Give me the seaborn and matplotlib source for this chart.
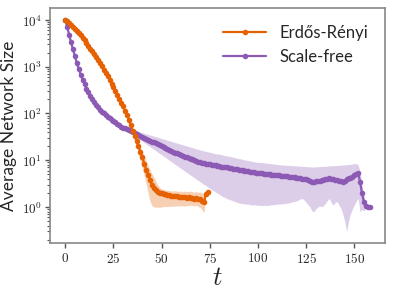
import numpy as np
import seaborn as sns
import matplotlib.pyplot as plt
from matplotlib.ticker import FixedLocator, FixedFormatter, LogLocator, NullFormatter

# Erdos-Renyi: mean network size per step with shaded band
er_mean = [10000, 9330, 8510, 7760, 7080, 6460, 5750, 5250, 4680, 4170,
           3720, 3240, 2820, 2450, 2140, 1860, 1620, 1380, 1200, 1020,
           871, 741, 631, 525, 437, 363, 302, 251, 204, 166,
           141, 115, 93, 74, 56, 43, 33, 26.3, 20.0, 15.1,
           11.5, 8.5, 6.3, 4.8, 3.7, 3.0, 2.57, 2.29, 2.14, 2.04,
           1.95, 1.91, 1.86, 1.82, 1.78, 1.74, 1.72, 1.70, 1.68, 1.66,
           1.64, 1.62, 1.63, 1.58, 1.60, 1.57, 1.55, 1.51, 1.53, 1.48,
           1.45, 1.35, 1.26, 1.91, 2.09]
er_hi = [10000, 9770, 8910, 8120, 7410, 6760, 6020, 5500, 4900, 4370,
         3890, 3390, 2950, 2570, 2240, 1950, 1700, 1440, 1260, 1070,
         912, 776, 661, 550, 458, 380, 316, 263, 214, 174,
         148, 120, 97, 78, 60, 47, 37.2, 30.2, 24.0, 19.1,
         14.8, 12.6, 9.55, 7.59, 6.17, 5.13, 4.37, 3.55, 2.95, 2.63,
         2.45, 2.34, 2.29, 2.27, 2.24, 2.21, 2.19, 2.24, 2.19, 2.16,
         2.19, 2.14, 2.19, 2.14, 2.16, 2.19, 2.12, 2.09, 2.14, 2.04,
         2.09, 2.00, 1.82, 2.09, 2.19]
er_lo = [10000, 8910, 8130, 7410, 6760, 6170, 5490, 5010, 4470, 3980,
         3550, 3090, 2690, 2340, 2040, 1780, 1550, 1320, 1150, 974,
         832, 708, 603, 501, 417, 347, 288, 240, 195, 159,
         135, 110, 89, 70, 52, 39, 28.8, 20.0, 13.5, 9.55,
         6.76, 4.57, 3.02, 2.00, 1.32, 1.07, 1.00, 1.00, 0.99, 0.99,
         1.00, 1.02, 1.03, 1.02, 1.04, 1.03, 1.05, 1.04, 1.06, 1.05,
         1.07, 1.06, 1.04, 1.08, 1.07, 1.10, 1.08, 1.05, 1.10, 1.02,
         0.98, 0.87, 0.76, 1.74, 1.99]

# Scale-free
sf_mean = [10000, 7080, 4790, 3310, 2340, 1660, 1200, 891, 676, 525,
           417, 339, 282, 234, 200, 174, 151, 135, 120, 110,
           100, 91.2, 85.1, 79.4, 74.1, 69.2, 64.6, 60.3, 56.2, 52.5,
           50.1, 47.9, 45.7, 43.7, 41.7, 39.8, 38.0, 36.3, 34.7, 33.1,
           31.6, 30.2, 28.8, 27.5, 26.3, 25.1, 24.0, 22.9, 21.9, 20.9,
           20.0, 19.1, 18.2, 17.4, 16.6, 15.8, 15.1, 14.5, 14.1, 13.5,
           12.9, 12.6, 12.0, 11.5, 11.2, 10.7, 10.5, 10.0, 9.77, 9.33,
           9.12, 8.91, 8.71, 8.51, 8.32, 8.13, 7.94, 7.85, 7.76, 7.59,
           7.50, 7.33, 7.24, 7.08, 7.00, 6.84, 6.76, 6.61, 6.53, 6.46,
           6.31, 6.24, 6.10, 6.03, 5.89, 5.82, 5.69, 5.62, 5.50, 5.43,
           5.37, 5.31, 5.25, 5.19, 5.13, 5.07, 5.01, 4.95, 4.90, 4.84,
           4.79, 4.73, 4.68, 4.62, 4.57, 4.52, 4.47, 4.42, 4.37, 4.32,
           4.27, 4.22, 4.17, 4.07, 3.98, 3.89, 3.76, 3.63, 3.51, 3.47,
           3.55, 3.63, 3.59, 3.72, 3.76, 3.89, 4.07, 4.22, 4.07, 3.89,
           3.80, 3.76, 3.63, 3.55, 3.47, 3.63, 3.98, 4.27, 4.17, 4.47,
           4.79, 5.01, 5.25, 3.47, 1.95, 1.29, 1.07, 1.00, 1.00]
sf_hi = [10000, 7940, 5370, 3710, 2630, 1860, 1350, 1000, 759, 589,
         468, 380, 316, 263, 224, 195, 169, 151, 135, 123,
         112, 102, 95.5, 89.1, 83.2, 77.6, 72.4, 67.6, 63.1, 58.9,
         56.2, 53.7, 51.3, 49.0, 46.8, 44.7, 43.4, 42.2, 41.0, 39.9,
         38.8, 37.7, 36.6, 35.6, 34.6, 33.7, 32.7, 31.8, 30.9, 30.1,
         29.2, 28.4, 27.6, 26.8, 26.1, 25.4, 24.7, 23.9, 23.3, 22.6,
         22.0, 21.4, 20.8, 20.2, 19.6, 19.1, 18.6, 18.0, 17.5, 17.1,
         16.6, 16.2, 15.8, 15.5, 15.1, 14.8, 14.5, 14.1, 13.8, 13.6,
         13.5, 13.2, 12.9, 12.6, 12.3, 12.2, 11.9, 11.6, 11.4, 11.1,
         10.8, 10.7, 10.5, 10.2, 10.0, 9.89, 9.66, 9.44, 9.33, 9.12,
         9.02, 8.91, 8.91, 8.81, 8.71, 8.61, 8.51, 8.41, 8.32, 8.22,
         8.13, 8.04, 7.94, 7.94, 7.85, 7.76, 7.76, 7.67, 7.67, 7.59,
         7.59, 7.50, 7.50, 7.41, 7.41, 7.33, 7.24, 7.24, 7.16, 7.16,
         7.24, 7.24, 7.33, 7.33, 7.41, 7.41, 7.50, 7.59, 7.59, 7.67,
         7.67, 7.76, 7.76, 7.85, 7.94, 7.94, 8.04, 8.13, 8.22, 8.32,
         8.41, 8.51, 7.94, 5.62, 2.82, 1.78, 1.15, 1.02, 1.00]
sf_lo = [10000, 6310, 4270, 2950, 2090, 1480, 1070, 794, 602, 468,
         372, 302, 251, 209, 178, 155, 135, 120, 107, 98,
         89, 81, 75.9, 70.8, 66.1, 61.7, 57.6, 53.7, 50.1, 46.8,
         44.7, 42.7, 40.7, 39.0, 37.2, 35.5, 33.2, 31.0, 29.0, 27.2,
         25.4, 23.8, 22.3, 20.8, 19.5, 18.2, 17.1, 16.0, 14.9, 14.0,
         13.1, 12.2, 11.5, 10.7, 10.0, 9.38, 8.77, 8.20, 7.67, 7.18,
         6.71, 6.29, 5.89, 5.51, 5.15, 4.82, 4.51, 4.22, 3.94, 3.69,
         3.47, 3.24, 3.02, 2.88, 2.69, 2.51, 2.34, 2.24, 2.09, 1.95,
         1.86, 1.74, 1.66, 1.58, 1.51, 1.46, 1.41, 1.35, 1.32, 1.26,
         1.23, 1.20, 1.19, 1.17, 1.15, 1.16, 1.12, 1.11, 1.12, 1.10,
         1.08, 1.10, 1.07, 1.08, 1.10, 1.07, 1.10, 1.12, 1.11, 1.15,
         1.14, 1.17, 1.16, 1.17, 1.20, 1.20, 1.23, 1.26, 1.29, 1.32,
         1.35, 1.41, 1.48, 1.53, 1.41, 1.26, 1.12, 1.00, 0.83, 0.79,
         0.91, 1.00, 1.05, 1.02, 1.07, 1.20, 1.38, 1.53, 1.26, 1.10,
         1.23, 1.32, 1.12, 0.955, 0.72, 0.50, 0.30, 0.50, 0.72, 0.91,
         1.12, 1.32, 1.53, 0.79, 0.89, 0.83, 0.955, 1.00, 1.00]

er_t = np.arange(len(er_mean))
sf_t = np.arange(len(sf_mean))

er_color = '#e66101'
sf_color = '#8c5ab4'

sns.set_theme(style='ticks')
plt.rcParams['font.family'] = ['Lato', 'DejaVu Sans']
plt.rcParams['mathtext.fontset'] = 'cm'

fig = plt.figure(figsize=(3.94, 2.96), dpi=100)
ax = fig.add_axes([0.127, 0.179, 0.85, 0.794])

ax.fill_between(sf_t, sf_lo, sf_hi, color=sf_color, alpha=0.3, linewidth=0)
ax.fill_between(er_t, er_lo, er_hi, color=er_color, alpha=0.3, linewidth=0)
sns.lineplot(x=sf_t, y=sf_mean, ax=ax, color=sf_color, marker='o', markersize=4,
             markeredgewidth=0, linewidth=1.6, label='Scale-free')
sns.lineplot(x=er_t, y=er_mean, ax=ax, color=er_color, marker='o', markersize=4,
             markeredgewidth=0, linewidth=1.6, label='Erdős-Rényi')

ax.set_yscale('log')
ax.set_ylim(0.17, 1.8e4)

ax.xaxis.set_major_locator(FixedLocator([0, 25, 50, 75, 100, 125, 150]))
ax.xaxis.set_major_formatter(FixedFormatter(['$0$', '$25$', '$50$', '$75$', '$100$', '$125$', '$150$']))
ax.yaxis.set_major_locator(FixedLocator([1, 10, 100, 1000, 10000]))
ax.yaxis.set_major_formatter(FixedFormatter(['$10^{0}$', '$10^{1}$', '$10^{2}$', '$10^{3}$', '$10^{4}$']))
ax.yaxis.set_minor_locator(LogLocator(base=10, subs=np.arange(2, 10), numticks=20))
ax.yaxis.set_minor_formatter(NullFormatter())
ax.tick_params(axis='both', which='major', labelsize=9.5, length=3.5, width=1,
               color='#555555', pad=2.5)
ax.tick_params(axis='y', which='minor', length=2, width=0.8, color='#555555')

for s in ax.spines.values():
    s.set_color('#888888')
    s.set_linewidth(1.2)

ax.set_xlabel('$t$', fontsize=19, labelpad=0)
ax.set_ylabel('Average Network Size', fontsize=12.5, labelpad=3)

handles, labels = ax.get_legend_handles_labels()
ax.legend(handles[::-1], labels[::-1], loc='upper right', frameon=False, fontsize=12,
          handlelength=2.6, borderaxespad=0.6)

fig.savefig('out.png', dpi=100)
